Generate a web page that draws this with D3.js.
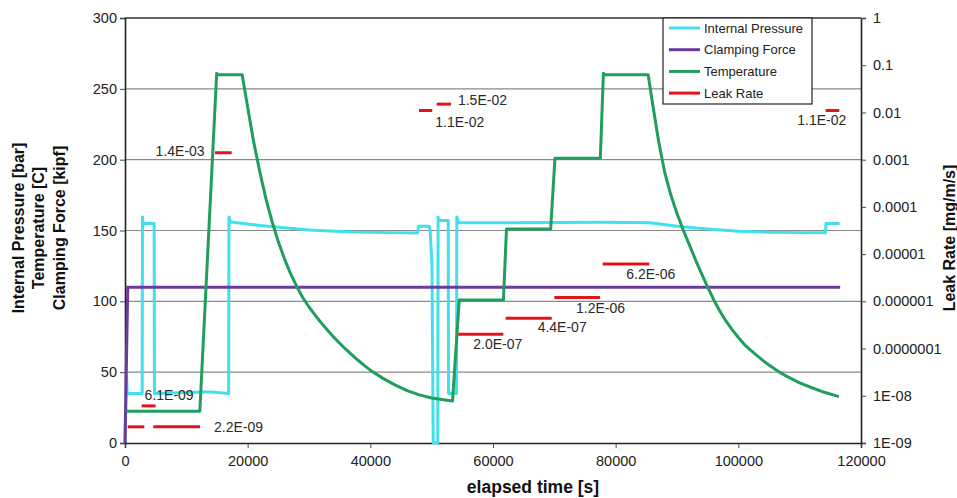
<!DOCTYPE html>
<html>
<head>
<meta charset="utf-8">
<script src="https://cdn.jsdelivr.net/npm/d3@7"></script>
<style>
  body { margin: 0; background: #fff; }
  svg text { font-family: "Liberation Sans", Arial, sans-serif; }
</style>
</head>
<body>
<svg id="chart" width="957" height="498"></svg>
<script>
// ---- data ----
var timeTicks = [0, 20000, 40000, 60000, 80000, 100000, 120000];
var leftTicks = [0, 50, 100, 150, 200, 250, 300];
var rightTicks = [1e-9, 1e-8, 1e-7, 1e-6, 1e-5, 1e-4, 1e-3, 1e-2, 1e-1, 1];
var rightTickLabels = ["1E-09", "1E-08", "0.0000001", "0.000001", "0.00001", "0.0001", "0.001", "0.01", "0.1", "1"];

var pressureTime = [0, 250, 350, 2800, 2850, 2950, 4750, 4800, 9000, 12500, 14000, 16900, 16950, 17200,
  22000, 30000, 37000, 43000, 47700, 47850, 49600, 49750, 50050, 50250, 51000, 51050, 51300, 52700, 52750,
  54050, 54100, 54400, 62000, 70000, 78000, 85600, 90000, 95000, 100000, 105000, 110000, 114200, 114300, 116500];
var pressureValue = [0, 47, 35, 35, 159.5, 155, 155, 35, 35.5, 36, 36, 35, 159.5, 156,
  153.5, 150.3, 149, 148.5, 148.3, 153, 153, 150, 126, 0, 0, 159.5, 157, 157, 35,
  35, 159.5, 155.5, 155.5, 155.7, 155.8, 155.5, 153, 151, 149.5, 148.8, 148.5, 148.5, 155, 155];

var clampTime = [0, 450, 116600];
var clampValue = [0, 110, 110];

var tempTime = [200, 12200, 14950, 15200, 19100, 20000, 21000, 22000, 23000, 24000, 25000, 26000, 27000,
  28000, 29000, 30000, 31000, 32000, 33000, 34000, 35000, 36000, 37000, 38000, 39000, 40000, 42000, 44000,
  46000, 48000, 50000, 53400, 54500, 61700, 62200, 69400, 70100, 77500, 78000, 78200, 85300, 86000, 87000,
  88000, 89000, 90000, 91000, 92000, 93000, 94000, 95000, 96000, 97000, 98000, 99000, 100000, 101000,
  102000, 103000, 104000, 105000, 106000, 107000, 108000, 110000, 112000, 114000, 116400];
var tempValue = [22.5, 22.5, 261, 260, 260, 237, 212, 191, 172, 156, 142, 130, 119.5,
  110.5, 102.5, 96, 90.2, 84.8, 79.7, 74.9, 70.4, 66.2, 62.2, 58.4, 54.8, 51.4, 45.8, 41,
  37, 34, 31.8, 29.6, 101, 101, 151, 151, 201, 201, 261, 260, 260, 240, 213,
  191, 175, 162, 150.5, 140, 129.5, 119.5, 110, 101, 93, 86, 80, 74.5, 69.5,
  65.5, 61.8, 58.3, 55, 52, 49.3, 46.8, 42.5, 39, 35.8, 32.7];

var leakStart = [440, 2720, 4610, 14670, 47930, 50820, 54340, 62070, 70000, 77880, 114240];
var leakEnd = [3150, 5000, 12230, 17390, 50100, 53150, 61680, 69570, 77450, 85480, 116460];
var leakValue = [2.2e-9, 6.1e-9, 2.2e-9, 1.4e-3, 1.1e-2, 1.5e-2, 2.0e-7, 4.4e-7, 1.2e-6, 6.2e-6, 1.1e-2];

var seriesNames = ["Internal Pressure", "Clamping Force", "Temperature", "Leak Rate"];

// ---- layout / style ----
var colors = { pressure: "#40e0ec", clamp: "#6c3a9c", temp: "#1f9e5c", leak: "#e0141a" };
// label placement relative to the end of each leak segment (text anchored at its right edge)
var leakLabelOffset = [null, [38, -11], [63, 0], [-27, -2], [52, 12], [56, -4], [19, 10], [35, 9], [25, 11], [26, 10], [7, 10]];

var W = 957, H = 498;
var margin = { top: 18, right: 96, bottom: 55, left: 125 };
var width = W - margin.left - margin.right;
var height = H - margin.top - margin.bottom;

var svg = d3.select("#chart");
var g = svg.append("g").attr("transform", "translate(" + margin.left + "," + margin.top + ")");

var x = d3.scaleLinear().domain([0, 120000]).range([0, width]);
var yL = d3.scaleLinear().domain([0, 300]).range([height, 0]);
var yR = d3.scaleLog().domain([1e-9, 1]).range([height, 0]);

// gridlines
g.append("g").selectAll("line")
  .data(leftTicks.filter(function(d) { return d > 0 && d < 300; }))
  .enter().append("line")
  .attr("x1", 0).attr("x2", width)
  .attr("y1", function(d) { return yL(d); })
  .attr("y2", function(d) { return yL(d); })
  .attr("stroke", "#8a8a8a").attr("stroke-width", 1.2);

// top border
g.append("line").attr("x1", 0).attr("x2", width).attr("y1", 0).attr("y2", 0)
  .attr("stroke", "#333").attr("stroke-width", 1.5);

var xAxis = d3.axisBottom(x).tickValues(timeTicks).tickSize(5).tickPadding(8).tickFormat(d3.format("d"));
var yAxisL = d3.axisLeft(yL).tickValues(leftTicks).tickSize(5).tickPadding(3);
var yAxisR = d3.axisRight(yR).tickValues(rightTicks).tickSize(5).tickPadding(7)
  .tickFormat(function(d, i) { return rightTickLabels[i]; });

function styleAxis(sel) {
  sel.select(".domain").attr("stroke", "#222").attr("stroke-width", 1.6);
  sel.selectAll(".tick line").attr("stroke", "#444");
  sel.selectAll(".tick text").attr("font-size", "14.5px").attr("fill", "#222")
    .style("font-family", '"Liberation Sans", Arial, sans-serif');
}

g.append("g").attr("transform", "translate(0," + height + ")").call(xAxis).call(styleAxis);
g.append("g").call(yAxisL).call(styleAxis);
g.append("g").attr("transform", "translate(" + width + ",0)").call(yAxisR).call(styleAxis);

// series
var lineL = d3.line().x(function(d) { return x(d[0]); }).y(function(d) { return yL(d[1]); });

g.append("path").datum(d3.zip(pressureTime, pressureValue))
  .attr("d", lineL).attr("fill", "none")
  .attr("stroke", colors.pressure).attr("stroke-width", 3).attr("stroke-linejoin", "round");

g.append("path").datum(d3.zip(clampTime, clampValue))
  .attr("d", lineL).attr("fill", "none")
  .attr("stroke", colors.clamp).attr("stroke-width", 3);

g.append("path").datum(d3.zip(tempTime, tempValue))
  .attr("d", lineL).attr("fill", "none")
  .attr("stroke", colors.temp).attr("stroke-width", 3).attr("stroke-linejoin", "round");

// leak rate segments on log axis
var leak = d3.range(leakValue.length).map(function(i) {
  return { start: leakStart[i], end: leakEnd[i], value: leakValue[i], off: leakLabelOffset[i] };
});

function fmtLeak(v) {
  var s = v.toExponential(1).toUpperCase();   // e.g. 1.1E-2
  return s.replace(/E([+-])(\d)$/, "E$10$2");
}

g.append("g").selectAll("line").data(leak).enter().append("line")
  .attr("x1", function(d) { return x(d.start); })
  .attr("x2", function(d) { return x(d.end); })
  .attr("y1", function(d) { return yR(d.value); })
  .attr("y2", function(d) { return yR(d.value); })
  .attr("stroke", colors.leak).attr("stroke-width", 3);

g.append("g").selectAll("text").data(leak.filter(function(d) { return d.off; })).enter().append("text")
  .attr("x", function(d) { return x(d.end) + d.off[0]; })
  .attr("y", function(d) { return yR(d.value) + d.off[1]; })
  .attr("dy", "0.35em")
  .attr("text-anchor", "end")
  .attr("font-size", "14px").attr("fill", "#2a2a2a")
  .text(function(d) { return fmtLeak(d.value); });

// legend
var legendColors = [colors.pressure, colors.clamp, colors.temp, colors.leak];
var legend = svg.append("g").attr("transform", "translate(663,18)");
legend.append("rect").attr("width", 149).attr("height", 86)
  .attr("fill", "#fff").attr("stroke", "#222").attr("stroke-width", 1.2);
var item = legend.selectAll(".item").data(seriesNames).enter().append("g")
  .attr("transform", function(d, i) { return "translate(0," + (10 + i * 21.7) + ")"; });
item.append("line").attr("x1", 6).attr("x2", 37).attr("y1", 0).attr("y2", 0)
  .attr("stroke", function(d, i) { return legendColors[i]; }).attr("stroke-width", 3);
item.append("text").attr("x", 41).attr("dy", "0.35em")
  .attr("font-size", "13px").attr("fill", "#222").text(function(d) { return d; });

// axis titles
var leftTitle = ["Internal Pressure [bar]", "Temperature [C]", "Clamping Force [kipf]"];
svg.append("g").selectAll("text").data(leftTitle).enter().append("text")
  .attr("transform", function(d, i) { return "translate(" + (18 + i * 20.5) + ",228) rotate(-90)"; })
  .attr("text-anchor", "middle").attr("dy", "0.35em")
  .attr("font-size", "16px").attr("font-weight", "bold").attr("fill", "#111")
  .text(function(d) { return d; });

svg.append("text")
  .attr("transform", "translate(949,238) rotate(-90)")
  .attr("text-anchor", "middle").attr("dy", "0.35em")
  .attr("font-size", "16px").attr("font-weight", "bold").attr("fill", "#111")
  .text("Leak Rate [mg/m/s]");

svg.append("text")
  .attr("x", 533).attr("y", 487).attr("dy", "0.35em")
  .attr("text-anchor", "middle")
  .attr("font-size", "17.5px").attr("font-weight", "bold").attr("fill", "#111")
  .text("elapsed time [s]");
</script>
</body>
</html>
